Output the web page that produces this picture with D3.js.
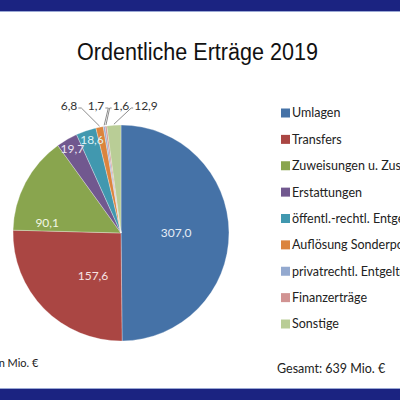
<!DOCTYPE html>
<html>
<head>
<meta charset="utf-8">
<script src="https://cdn.jsdelivr.net/npm/d3@7"></script>
<style>
  html, body { margin: 0; padding: 0; background: #fff; }
  svg { display: block; }
</style>
</head>
<body>
<div id="chart"></div>
<script>
var categories = [
  "Umlagen",
  "Transfers",
  "Zuweisungen u. Zuschüsse",
  "Erstattungen",
  "öffentl.-rechtl. Entgelte",
  "Auflösung Sonderposten",
  "privatrechtl. Entgelte",
  "Finanzerträge",
  "Sonstige"
];
var values = [307.0, 157.6, 90.1, 19.7, 18.6, 6.8, 1.7, 1.6, 12.9];
var colors = ["#4572a7", "#aa4643", "#89a54e", "#71588f", "#4198af", "#db843d", "#93a9cf", "#d19392", "#b9cd96"];
var labelColors = ["#e6edf6", "#f7e4e3", "#f2f7e4", "#ece6f4", "#dff3f8", "#333", "#333", "#333", "#333"];
var title = "Ordentliche Erträge 2019";
var unitNote = "in Mio. €";
var totalNote = "Gesamt: 639 Mio. €";

var width = 400, height = 400;
var cx = 121, cy = 233, radius = 108;
var labelFont = "Lato, 'Open Sans', sans-serif";

var svg = d3
  .select("#chart")
  .append("svg")
  .attr("width", width)
  .attr("height", height);

// frame bars top and bottom
svg.append("rect").attr("x", 0).attr("y", 0).attr("width", width).attr("height", 11).style("fill", "#1b2381");
svg.append("rect").attr("x", 0).attr("y", 11).attr("width", width).attr("height", 1).style("fill", "#9aa8d4");
svg.append("rect").attr("x", 0).attr("y", 389).attr("width", width).attr("height", 11).style("fill", "#1b2381");
svg.append("rect").attr("x", 0).attr("y", 388).attr("width", width).attr("height", 1).style("fill", "#9aa8d4");

svg
  .append("text")
  .attr("x", 197.5)
  .attr("y", 60)
  .attr("text-anchor", "middle")
  .attr("textLength", 241)
  .attr("lengthAdjust", "spacingAndGlyphs")
  .style("font-family", "'Liberation Sans', Arial, sans-serif")
  .style("font-size", "23px")
  .style("fill", "#111")
  .text(title);

var pie = d3.pie().sort(null).value(function (d) { return d; });
var arcs = pie(values);
var arc = d3.arc().innerRadius(0).outerRadius(radius);

var g = svg.append("g").attr("transform", "translate(" + cx + "," + cy + ")");

g.selectAll("path.slice")
  .data(arcs)
  .enter()
  .append("path")
  .attr("class", "slice")
  .attr("d", arc)
  .style("fill", function (d, i) { return colors[i]; })
  .style("stroke", "#fff")
  .style("stroke-width", 0.3);

// inside labels: radius fraction and angle nudge (deg) for the best-fit look
var insideRadius = [0.51, 0.47, 0.69, 0.9, 0.9];
var insideShift = [0, -12, -20, 0, 1.5];
var fmt = function (v) { return d3.format(".1f")(v).replace(".", ","); };

arcs.forEach(function (d, i) {
  if (i >= insideRadius.length) return;
  var a = (d.startAngle + d.endAngle) / 2 + insideShift[i] * Math.PI / 180;
  var rr = radius * insideRadius[i];
  g.append("text")
    .attr("x", rr * Math.sin(a))
    .attr("y", -rr * Math.cos(a))
    .attr("dy", "0.35em")
    .attr("text-anchor", "middle")
    .style("font-family", labelFont)
    .style("font-size", "12px")
    .style("fill", labelColors[i])
    .text(fmt(values[i]));
});

// outside labels for the small slices at the top
var outsideDx = [-52, -25, 0, 25];
var outsideY = -radius - 19;
arcs.forEach(function (d, i) {
  if (i < insideRadius.length) return;
  var k = i - insideRadius.length;
  var a = (d.startAngle + d.endAngle) / 2;
  var px = radius * Math.sin(a), py = -radius * Math.cos(a);
  var lx = outsideDx[k];
  var txt = g.append("text")
    .attr("x", lx)
    .attr("y", outsideY)
    .attr("dy", "0.35em")
    .attr("text-anchor", "middle")
    .style("font-family", labelFont)
    .style("font-size", "12px")
    .style("fill", "#333")
    .text(fmt(values[i]));
  var w = txt.node().getComputedTextLength();
  var sx = lx < px - 4 ? lx + w / 2 + 1 : lx - w / 2 - 1;
  var sy = outsideY + 2;
  g.append("path")
    .attr("d", "M" + sx + "," + sy + (lx < px - 4 ? "h3" : "h-2") + "L" + px + "," + (py - 1))
    .style("fill", "none")
    .style("stroke", "#8c8c8c")
    .style("stroke-width", 1);
});

// legend
var legendY = d3.scalePoint().domain(categories).range([113, 324]);
var legend = svg.append("g").attr("class", "legend");
legend
  .selectAll("rect")
  .data(categories)
  .enter()
  .append("rect")
  .attr("x", 281)
  .attr("y", function (d) { return legendY(d) - 4.5; })
  .attr("width", 9)
  .attr("height", 9)
  .style("fill", function (d, i) { return colors[i]; });
legend
  .selectAll("text")
  .data(categories)
  .enter()
  .append("text")
  .attr("x", 292)
  .attr("y", function (d) { return legendY(d); })
  .attr("dy", "0.35em")
  .style("font-family", labelFont)
  .style("font-size", "12.5px")
  .style("fill", "#222")
  .text(function (d) { return d; });

svg.append("text")
  .attr("x", -4)
  .attr("y", 367)
  .style("font-family", labelFont)
  .style("font-size", "11px")
  .style("fill", "#222")
  .text(unitNote);

svg.append("text")
  .attr("x", 277)
  .attr("y", 373)
  .style("font-family", labelFont)
  .style("font-size", "12.5px")
  .style("fill", "#222")
  .text(totalNote);
</script>
</body>
</html>
